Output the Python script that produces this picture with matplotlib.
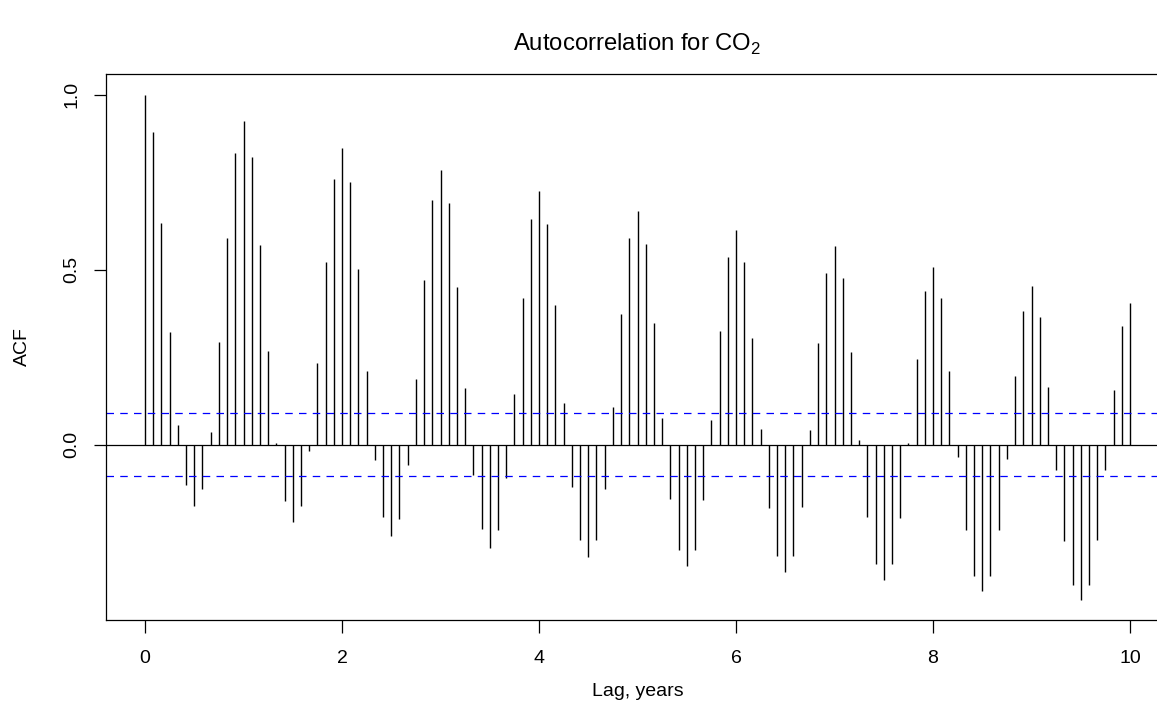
import numpy as np
import matplotlib
matplotlib.use("Agg")
import matplotlib.pyplot as plt

# ACF values at monthly lags (lag in years = k/12)
acf_values = [
    1.000, 0.892, 0.633, 0.323, 0.057, -0.116, -0.176, -0.127, 0.036, 0.292, 0.590, 0.834,
    0.926, 0.823, 0.571, 0.268, 0.006, -0.162, -0.222, -0.175, -0.017, 0.234, 0.523, 0.760,
    0.848, 0.750, 0.503, 0.210, -0.044, -0.207, -0.261, -0.213, -0.057, 0.188, 0.469, 0.699,
    0.786, 0.689, 0.449, 0.162, -0.086, -0.242, -0.294, -0.245, -0.094, 0.146, 0.419, 0.644,
    0.726, 0.630, 0.398, 0.118, -0.122, -0.273, -0.321, -0.273, -0.126, 0.108, 0.373, 0.589,
    0.668, 0.574, 0.347, 0.077, -0.155, -0.300, -0.347, -0.300, -0.157, 0.070, 0.326, 0.537,
    0.614, 0.523, 0.304, 0.044, -0.180, -0.319, -0.364, -0.317, -0.178, 0.041, 0.290, 0.491,
    0.567, 0.477, 0.264, 0.012, -0.206, -0.341, -0.386, -0.341, -0.209, 0.004, 0.245, 0.439,
    0.508, 0.418, 0.211, -0.035, -0.244, -0.376, -0.419, -0.376, -0.244, -0.041, 0.196, 0.383,
    0.452, 0.366, 0.165, -0.072, -0.276, -0.402, -0.444, -0.401, -0.273, -0.072, 0.156, 0.339,
    0.404,
]
lags = [k / 12 for k in range(len(acf_values))]
conf_limit = 0.09

x_ticks = [0, 2, 4, 6, 8, 10]
y_ticks = [0.0, 0.5, 1.0]
y_tick_labels = ["0.0", "0.5", "1.0"]

title_text = "Autocorrelation for CO$_2$"
x_label = "Lag, years"
y_label = "ACF"

plt.rcParams['font.family'] = ['Liberation Sans', 'DejaVu Sans']
plt.rcParams['mathtext.fontset'] = 'custom'
plt.rcParams['mathtext.rm'] = 'Liberation Sans'

W, H = 1157, 719
fig = plt.figure(figsize=(W / 100, H / 100), dpi=100)

left_px, right_px, top_px, bottom_px = 105.6, 1169.4, 74.3, 619.7
ax = fig.add_axes([left_px / W, (H - bottom_px) / H,
                   (right_px - left_px) / W, (bottom_px - top_px) / H])

ax.vlines(lags, 0, acf_values, colors='black', linewidth=1.0)
ax.axhline(0, color='black', linewidth=0.9)
for c in (conf_limit, -conf_limit):
    ax.axhline(c, color='#0000FF', linewidth=0.9, linestyle=(0, (6, 5)))

ax.set_xlim(-0.4, 10.4)
ax.set_ylim(-0.5, 1.058)
ax.set_xticks(x_ticks)
ax.set_xticklabels([str(t) for t in x_ticks])
ax.set_yticks(y_ticks)
ax.set_yticklabels(y_tick_labels, rotation=90, va='center')

for s in ax.spines.values():
    s.set_linewidth(0.9)
    s.set_color('black')

ax.tick_params(axis='both', direction='out', length=9, width=0.9,
               labelsize=14, colors='black')
ax.tick_params(axis='x', pad=12.5)
ax.tick_params(axis='y', pad=9)

fig.text(637.5 / W, 1 - 44 / H, title_text, ha='center', va='center', fontsize=17.2)
fig.text(637.5 / W, 1 - 692 / H, x_label, ha='center', va='center', fontsize=14)
fig.text(22 / W, 1 - 347 / H, y_label, ha='center', va='center', fontsize=14, rotation=90)

fig.savefig("out.png", dpi=100)
